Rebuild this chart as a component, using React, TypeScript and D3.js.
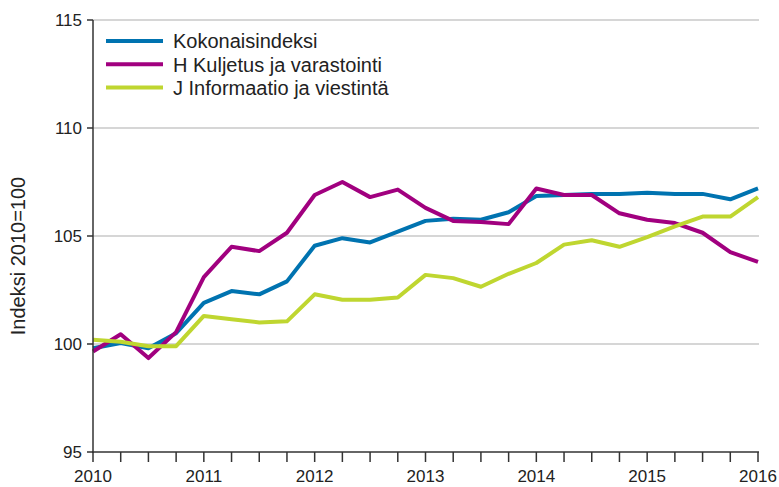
import React from "react";
import * as d3 from "d3";

const quarters: string[] = [
  "2010Q1","2010Q2","2010Q3","2010Q4",
  "2011Q1","2011Q2","2011Q3","2011Q4",
  "2012Q1","2012Q2","2012Q3","2012Q4",
  "2013Q1","2013Q2","2013Q3","2013Q4",
  "2014Q1","2014Q2","2014Q3","2014Q4",
  "2015Q1","2015Q2","2015Q3","2015Q4",
  "2016Q1",
];

const kokonaisindeksi: number[] = [
  99.8, 100.05, 99.8, 100.5, 101.9, 102.45, 102.3, 102.9,
  104.55, 104.9, 104.7, 105.2, 105.7, 105.8, 105.75, 106.1,
  106.85, 106.9, 106.95, 106.95, 107.0, 106.95, 106.95, 106.7, 107.2,
];

const kuljetus: number[] = [
  99.65, 100.45, 99.35, 100.55, 103.1, 104.5, 104.3, 105.15,
  106.9, 107.5, 106.8, 107.15, 106.3, 105.7, 105.65, 105.55,
  107.2, 106.9, 106.9, 106.05, 105.75, 105.6, 105.15, 104.25, 103.8,
];

const informaatio: number[] = [
  100.2, 100.1, 99.9, 99.9, 101.3, 101.15, 101.0, 101.05,
  102.3, 102.05, 102.05, 102.15, 103.2, 103.05, 102.65, 103.25,
  103.75, 104.6, 104.8, 104.5, 104.95, 105.45, 105.9, 105.9, 106.8,
];

const seriesNames: string[] = [
  "Kokonaisindeksi",
  "H Kuljetus ja varastointi",
  "J Informaatio ja viestintä",
];
const seriesColors: string[] = ["#0073b0", "#a1007f", "#bfd630"];

const yTicks: number[] = [95, 100, 105, 110, 115];
const yearLabels: string[] = ["2010", "2011", "2012", "2013", "2014", "2015", "2016"];
const yAxisTitle = "Indeksi 2010=100";

export default function App() {
  const W = 779;
  const H = 487;
  const left = 93;
  const right = 758;
  const top = 20;
  const bottom = 452;

  const x = d3.scaleLinear().domain([0, quarters.length - 1]).range([left, right]);
  const y = d3.scaleLinear().domain([95, 115]).range([bottom, top]);

  const line = d3
    .line<number>()
    .x((_, i) => x(i))
    .y((d) => y(d));

  const data = [kokonaisindeksi, kuljetus, informaatio];
  const font = "'Liberation Sans', Arial, sans-serif";

  return (
    <svg
      width={W}
      height={H}
      style={{ position: "absolute", left: 0, top: 0, background: "#fff" }}
      fontFamily={font}
    >
      {yTicks
        .filter((t) => t !== 95)
        .map((t) => (
          <line key={"g" + t} x1={left} x2={right + 1} y1={y(t)} y2={y(t)} stroke="#c8c8c8" strokeWidth={1.5} />
        ))}
      {[0, 1, 2].map((k) => (
        <path
          key={"s" + k}
          d={line(data[k]) || ""}
          fill="none"
          stroke={seriesColors[k]}
          strokeWidth={4}
          strokeLinejoin="round"
          strokeLinecap="butt"
        />
      ))}
      <line x1={left} x2={left} y1={top} y2={bottom + 1} stroke="#333" strokeWidth={1.5} />
      {yTicks.map((t) => (
        <g key={"yt" + t}>
          <line x1={left - 6} x2={left} y1={y(t)} y2={y(t)} stroke="#333" strokeWidth={1.5} />
          <text x={left - 11} y={y(t)} dy="0.36em" textAnchor="end" fontSize={17} fill="#222">
            {t}
          </text>
        </g>
      ))}
      <line x1={left - 1} x2={right + 1} y1={bottom} y2={bottom} stroke="#333" strokeWidth={1.5} />
      {quarters.map((q, i) => (
        <line key={"xt" + q} x1={x(i)} x2={x(i)} y1={bottom} y2={bottom + 10} stroke="#333" strokeWidth={1.5} />
      ))}
      {yearLabels.map((lab, j) => (
        <text key={"xl" + lab} x={x(j * 4)} y={482} textAnchor="middle" fontSize={17} fill="#222">
          {lab}
        </text>
      ))}
      <text
        transform={`translate(25, ${(top + bottom) / 2 + 20}) rotate(-90)`}
        textAnchor="middle"
        fontSize={20}
        fill="#222"
      >
        {yAxisTitle}
      </text>
      {seriesNames.map((name, k) => (
        <g key={"lg" + k} transform={`translate(0, ${41 + k * 23.3})`}>
          <line x1={106} x2={163} y1={0} y2={0} stroke={seriesColors[k]} strokeWidth={4} />
          <text x={173} y={0} dy="0.36em" fontSize={20} fill="#222">
            {name}
          </text>
        </g>
      ))}
    </svg>
  );
}
